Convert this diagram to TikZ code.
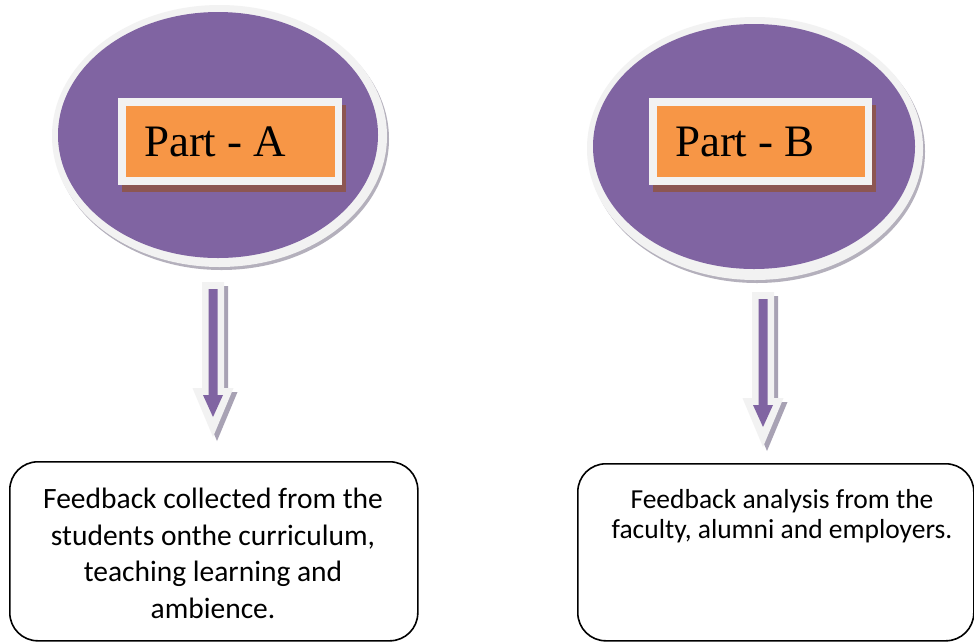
\documentclass[tikz,border=0pt]{standalone}
\usepackage{fontspec}
\setmainfont{Liberation Serif}
\newfontfamily\partfont{Liberation Serif}
\newfontfamily\carlito{Carlito}
\usetikzlibrary{shapes.geometric,shadows,calc}
\definecolor{ovpurple}{HTML}{8064A2}
\definecolor{ovorange}{HTML}{F79646}
\definecolor{ringwhite}{HTML}{F2F2F2}
\definecolor{ovshadow}{HTML}{B4B0BC}
\definecolor{boxshadow}{HTML}{8C5652}
\definecolor{arrshadow}{HTML}{A8A2B4}
\newcommand\feedarrow[1]{%
  \begin{scope}[shift={(#1)}]
    \fill[arrshadow] (-7,4) -- (15,4) -- (15,110) -- (24.5,110) -- (4,159) -- (-16.5,110) -- (-7,110) -- cycle;
    \fill[ringwhite] (-11,0) -- (11,0) -- (11,106) -- (20.5,106) -- (0,155) -- (-20.5,106) -- (-11,106) -- cycle;
    \fill[ovpurple] (-4.5,7) -- (4.5,7) -- (4.5,113) -- (10,113) -- (0,135) -- (-10,113) -- (-4.5,113) -- cycle;
  \end{scope}}
\begin{document}
\begin{tikzpicture}[x=1pt,y=-1pt,
  outeroval/.style={ellipse, fill=ringwhite, draw=none, inner sep=0pt,
    drop shadow={shadow xshift=2pt, shadow yshift=-3pt, fill=ovshadow, opacity=1}},
  inneroval/.style={ellipse, fill=ovpurple, draw=none, inner sep=0pt},
  outerbox/.style={rectangle, fill=ringwhite, draw=none, inner sep=0pt, minimum height=87pt,
    drop shadow={shadow xshift=3.5pt, shadow yshift=-7pt, fill=boxshadow, opacity=1}},
  innerbox/.style={rectangle, fill=ovorange, draw=none, inner ysep=0pt, inner xsep=18pt,
    minimum height=71pt, align=left, font=\partfont\fontsize{45}{50}\selectfont},
  fbbox/.style={draw=black, line width=1.6pt, rounded corners=28pt, fill=white,
    inner sep=0pt, anchor=north west},
  fbtext/.style={align=center, inner sep=0pt, anchor=north},
]
\useasboundingbox (0,0) rectangle (974,641);
\clip (0,0) rectangle (974,641);
\fill[white] (0,0) rectangle (974,641);

% Part A
\node[outeroval, minimum width=335pt, minimum height=262pt] (ellA) at (219.5,136) {};
\node[inneroval, minimum width=320pt, minimum height=246pt] (ellAin) at (218,135) {};
\node[outerbox, minimum width=224pt] (boxAo) at (230,141.5) {};
\node[innerbox, text width=173pt] (boxA) at (230.5,141.5) {Part\hspace{-3.5pt} - \hspace{-4pt}A};

% Part B
\node[outeroval, minimum width=336pt, minimum height=263pt] (ellB) at (755,148.5) {};
\node[inneroval, minimum width=322pt, minimum height=245pt] (ellBin) at (754,146.5) {};
\node[outerbox, minimum width=223pt] (boxBo) at (760.5,141.5) {};
\node[innerbox, text width=172pt] (boxB) at (761,141.5) {Part\hspace{-3.5pt} - \hspace{-4pt}B};

% arrows
\coordinate (arrA) at (213,282);
\coordinate (arrB) at (763,292);
\feedarrow{arrA}
\feedarrow{arrB}

% feedback boxes
\node[fbbox, minimum width=408pt, minimum height=179pt] (fbA) at (9,461) {};
\node[fbtext, font=\carlito\fontsize{29.5}{36.5}\selectfont] (txtA) at (213,488)
  {Feedback collected from the\\ students onthe curriculum,\\ teaching learning and\\ ambience.};

\node[fbbox, minimum width=396pt, minimum height=177pt] (fbB) at (577,463) {};
\node[fbtext, font=\carlito\fontsize{27.5}{30}\selectfont] (txtB) at (782,489)
  {Feedback analysis from the\\ faculty, alumni and employers.};
\end{tikzpicture}
\end{document}
